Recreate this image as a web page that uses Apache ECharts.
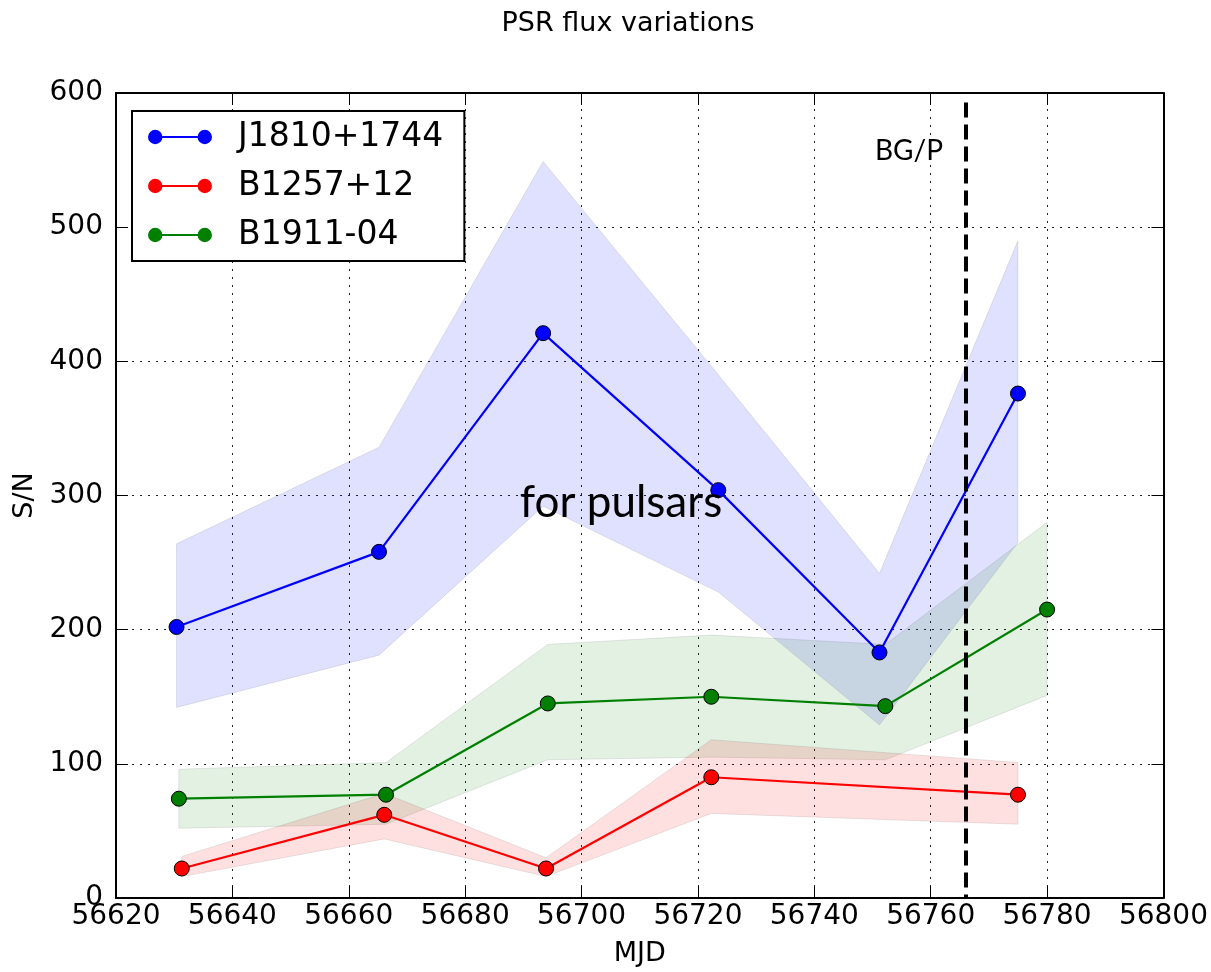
<!DOCTYPE html>
<html>
<head>
<meta charset="utf-8">
<script src="https://cdn.jsdelivr.net/npm/echarts@6/dist/echarts.min.js"></script>
<style>
html,body{margin:0;padding:0;background:#fff;}
#chart{width:1211px;height:972px;}
</style>
</head>
<body>
<div id="chart"></div>
<script>
// ---- data ----
const seriesNames = ['J1810+1744', 'B1257+12', 'B1911-04'];

const blueX  = [56630.4, 56665.2, 56693.4, 56723.5, 56751.2, 56775.0];
const blueY  = [202, 258, 421, 304, 183, 376];
const blueLo = [142, 181, 292, 228, 129, 265];
const blueHi = [264, 336, 549, 390, 242, 490];

const redX  = [56631.3, 56666.1, 56693.9, 56722.3, 56775.0];
const redY  = [22, 62, 22, 90, 77];
const redLo = [16, 44, 16, 63, 55];
const redHi = [31, 78, 30, 118, 101];

const greenX  = [56630.8, 56666.4, 56694.2, 56722.3, 56752.2, 56780.0];
const greenY  = [74, 77, 145, 150, 143, 215];
const greenLo = [52, 55, 103, 105, 103, 151];
const greenHi = [96, 101, 189, 196, 189, 280];

const xTicks = [56620, 56640, 56660, 56680, 56700, 56720, 56740, 56760, 56780, 56800];
const yTicks = [0, 100, 200, 300, 400, 500, 600];

const bgpMJD = 56766;
const bgpTop = 593;

// ---- helpers ----
const zip = (xs, ys) => xs.map((x, i) => [x, ys[i]]);

function band(xs, lo, hi, fill) {
  return {
    type: 'custom',
    silent: true,
    z: 1,
    clip: true,
    data: [[xs[0], lo[0]]],
    encode: { x: 0, y: 1 },
    renderItem: function (params, api) {
      const pts = [];
      for (let i = 0; i < xs.length; i++) pts.push(api.coord([xs[i], hi[i]]));
      for (let i = xs.length - 1; i >= 0; i--) pts.push(api.coord([xs[i], lo[i]]));
      return {
        type: 'polygon',
        shape: { points: pts },
        style: { fill: fill, stroke: 'rgba(0,0,0,0.09)', lineWidth: 1 }
      };
    }
  };
}

function lineSeries(name, xs, ys, color) {
  return {
    name: name,
    type: 'line',
    data: zip(xs, ys),
    z: 3,
    symbol: 'circle',
    symbolSize: 15,
    lineStyle: { color: color, width: 2.2 },
    itemStyle: { color: color, borderColor: '#000', borderWidth: 1 },
    emphasis: { disabled: true }
  };
}

const legendIcon = 'path://M0,7A7,7,0,1,1,14,7A7,7,0,1,1,0,7ZM13,6L49,6L49,8L13,8ZM48,7A7,7,0,1,1,62,7A7,7,0,1,1,48,7Z';

const tickFont = 'DejaVu Sans';
const gridDots = { color: '#222', width: 1, type: [2, 6] };

const chart = echarts.init(document.getElementById('chart'), null, { renderer: 'canvas' });

const blueSeries = lineSeries(seriesNames[0], blueX, blueY, '#0000ff');
blueSeries.markLine = {
  silent: true,
  symbol: ['none', 'none'],
  label: { show: false },
  lineStyle: { color: '#000', width: 4, type: [15, 7] },
  data: [[{ coord: [bgpMJD, bgpTop] }, { coord: [bgpMJD, 0] }]]
};

chart.setOption({
  animation: false,
  backgroundColor: '#fff',
  title: {
    text: 'PSR flux variations',
    left: 623,
    top: 5,
    textAlign: 'center',
    textStyle: { fontFamily: tickFont, fontSize: 27, fontWeight: 'normal', color: '#000' }
  },
  grid: { left: 116, right: 45, top: 93, bottom: 67, containLabel: false },
  legend: {
    orient: 'vertical',
    left: 132,
    top: 111,
    data: seriesNames.map(n => ({ name: n, icon: legendIcon })),
    itemWidth: 64,
    itemHeight: 15,
    itemGap: 13,
    padding: [8, 21, 8, 16],
    borderColor: '#000',
    borderWidth: 2,
    borderRadius: 0,
    backgroundColor: '#fff',
    selectedMode: false,
    itemStyle: { borderWidth: 0 },
    textStyle: { fontFamily: tickFont, fontSize: 33, color: '#000', lineHeight: 36, padding: [0, 0, 0, 21] }
  },
  xAxis: [
    {
      type: 'value', position: 'bottom',
      min: xTicks[0], max: xTicks[xTicks.length - 1], interval: 20,
      axisLine: { show: true, onZero: false, lineStyle: { color: '#000', width: 2 } },
      axisTick: { show: true, inside: true, length: 12, lineStyle: { color: '#000', width: 1 } },
      axisLabel: { show: true, fontFamily: tickFont, fontSize: 28, color: '#000', margin: 5,
                   formatter: v => (xTicks.indexOf(v) >= 0 ? String(v) : '') },
      splitLine: { show: true, lineStyle: gridDots },
      name: 'MJD', nameLocation: 'middle', nameGap: 42,
      nameTextStyle: { fontFamily: tickFont, fontSize: 27, color: '#000' }
    },
    {
      type: 'value', position: 'top',
      min: xTicks[0], max: xTicks[xTicks.length - 1], interval: 20,
      axisLine: { show: true, onZero: false, lineStyle: { color: '#000', width: 2 } },
      axisTick: { show: true, inside: true, length: 12, lineStyle: { color: '#000', width: 1 } },
      axisLabel: { show: false },
      splitLine: { show: false }
    }
  ],
  yAxis: [
    {
      type: 'value', position: 'left',
      min: yTicks[0], max: yTicks[yTicks.length - 1], interval: 100,
      axisLine: { show: true, onZero: false, lineStyle: { color: '#000', width: 2 } },
      axisTick: { show: true, inside: true, length: 12, lineStyle: { color: '#000', width: 1 } },
      axisLabel: { show: true, fontFamily: tickFont, fontSize: 28, color: '#000', margin: 13,
                   formatter: v => (yTicks.indexOf(v) >= 0 ? String(v) : '') },
      splitLine: { show: true, lineStyle: gridDots },
      name: 'S/N', nameLocation: 'middle', nameGap: 68, nameRotate: 90,
      nameTextStyle: { fontFamily: tickFont, fontSize: 27, color: '#000' }
    },
    {
      type: 'value', position: 'right',
      min: yTicks[0], max: yTicks[yTicks.length - 1], interval: 100,
      axisLine: { show: true, onZero: false, lineStyle: { color: '#000', width: 2 } },
      axisTick: { show: true, inside: true, length: 12, lineStyle: { color: '#000', width: 1 } },
      axisLabel: { show: false },
      splitLine: { show: false }
    }
  ],
  series: [
    band(blueX, blueLo, blueHi, 'rgba(0,0,255,0.12)'),
    band(greenX, greenLo, greenHi, 'rgba(0,128,0,0.11)'),
    band(redX, redLo, redHi, 'rgba(255,0,0,0.12)'),
    blueSeries,
    lineSeries(seriesNames[1], redX, redY, '#ff0000'),
    lineSeries(seriesNames[2], greenX, greenY, '#008000')
  ],
  graphic: [
    {
      type: 'text', x: 621, y: 503, z: 100, silent: true,
      style: { text: 'for pulsars', fontFamily: 'Lato', fontSize: 44, fill: '#000', align: 'center', verticalAlign: 'middle' }
    },
    {
      type: 'text', x: 909, y: 151, z: 100, silent: true,
      style: { text: 'BG/P', fontFamily: 'Lato', fontSize: 28, fill: '#000', align: 'center', verticalAlign: 'middle' }
    }
  ]
});
</script>
</body>
</html>
